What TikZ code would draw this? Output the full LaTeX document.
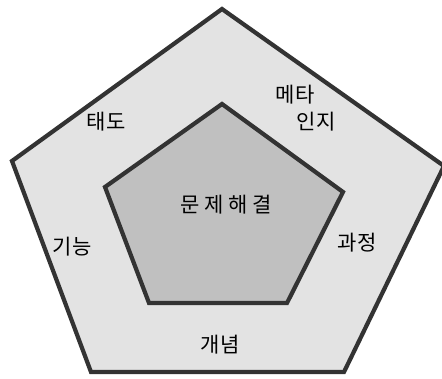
\documentclass[tikz,border=0pt]{standalone}
\usepackage{fontspec}
\newfontfamily\kr{Noto Sans CJK KR}
\definecolor{outerfill}{HTML}{E3E3E3}
\definecolor{innerfill}{HTML}{C0C0C0}
\definecolor{edge}{HTML}{333333}
\tikzset{
  pent/.style={draw=edge, line width=4.2pt, line join=miter},
  lbl/.style={font=\kr\fontsize{21}{24}\selectfont, text=black, inner sep=0pt, align=center}
}
\begin{document}
\begin{tikzpicture}[x=1pt,y=-1pt]
\useasboundingbox (0,0) rectangle (442,378);
\fill[white] (0,0) rectangle (442,378);
% outer pentagon
\coordinate (o1) at (222,9);
\coordinate (o2) at (444,166);
\coordinate (o3) at (344,372);
\coordinate (o4) at (91,372);
\coordinate (o5) at (12,161);
\draw[pent, fill=outerfill] (o1) -- (o2) -- (o3) -- (o4) -- (o5) -- cycle;
% inner pentagon
\coordinate (i1) at (222,104);
\coordinate (i2) at (343,192);
\coordinate (i3) at (287,303);
\coordinate (i4) at (149,303);
\coordinate (i5) at (105,187);
\draw[pent, fill=innerfill] (i1) -- (i2) -- (i3) -- (i4) -- (i5) -- cycle;
% labels
\node[lbl] (ps) at (226,205) {문 제 해 결};
\node[lbl] (meta) at (295,95) {메타};
\node[lbl] (inji) at (316,122) {인지};
\node[lbl] (taedo) at (106,122) {태도};
\node[lbl] (gineung) at (72,247) {기능};
\node[lbl] (gwajeong) at (357,243) {과정};
\node[lbl] (gaenyeom) at (220,345) {개념};
\end{tikzpicture}
\end{document}
